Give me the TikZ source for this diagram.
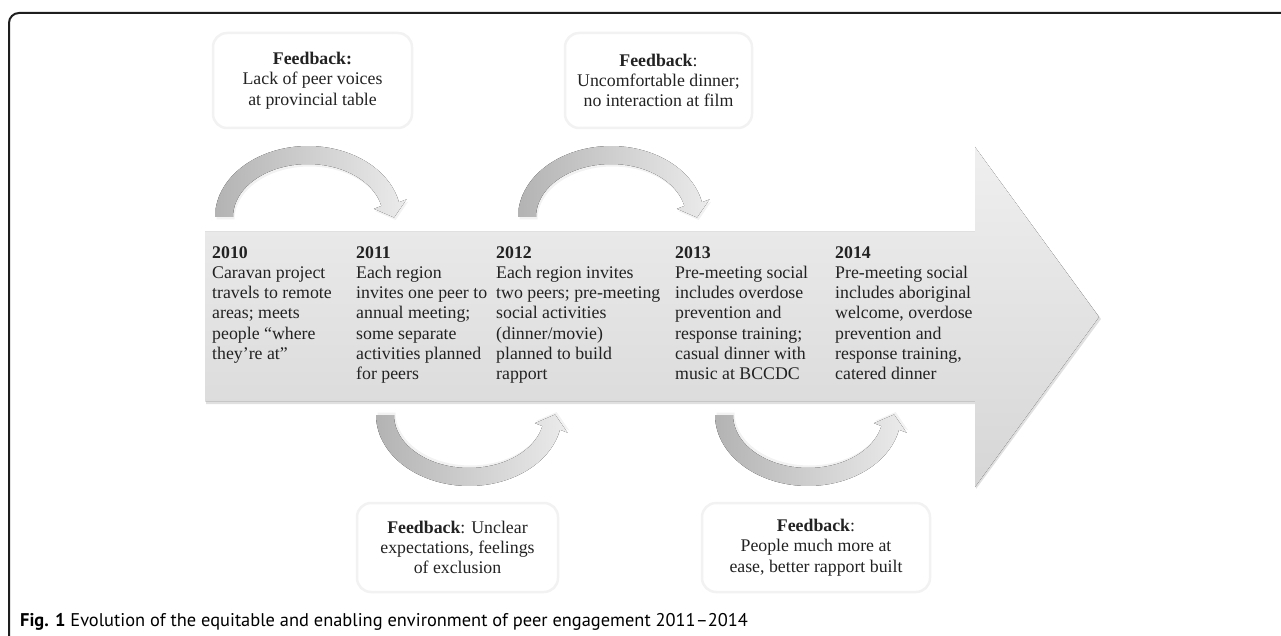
\documentclass[tikz,border=0pt]{standalone}
\usepackage{fontspec}
\setmainfont{Liberation Serif}
\newfontfamily\capfont{PT Sans}
\definecolor{arcdark}{HTML}{B3B3B3}
\definecolor{arclight}{HTML}{EBEBEB}
\definecolor{bartop}{HTML}{EFEFEF}
\definecolor{barbot}{HTML}{D6D6D6}
\definecolor{boxline}{HTML}{F2F2F2}
\definecolor{framec}{HTML}{1E1E1E}
\definecolor{txt}{HTML}{222222}
\newcommand\feedarc[3]{%
  \begin{scope}[shift={(#1,#2)}, yscale=#3]
    \fill[black, opacity=0.05, shift={(1.5,2.5)}] (-93,0) -- plot[domain=180:12, samples=40] ({93*cos(\x)}, {-71*sin(\x)}) -- (98.5,-17.6) -- (86.1,0.5) -- (65.9,-8.2) -- plot[domain=12:180, samples=40] ({75*cos(\x)},{-53*sin(\x)}) -- cycle;
    \fill[left color=arcdark, right color=arclight] (-93,0) -- plot[domain=180:12, samples=40] ({93*cos(\x)}, {-71*sin(\x)}) -- (98.5,-17.6) -- (86.1,0.5) -- (65.9,-8.2) -- plot[domain=12:180, samples=40] ({75*cos(\x)},{-53*sin(\x)}) -- cycle;
  \end{scope}}
\begin{document}
\begin{tikzpicture}[x=1pt,y=-1pt,
  fbbox/.style={draw=boxline, line width=2.5pt, fill=white, rounded corners=14pt, align=center, inner sep=0pt, text=txt, font=\fontsize{17.8}{20.3}\selectfont},
  yeartext/.style={anchor=north west, align=left, inner sep=0pt, text=txt, font=\fontsize{17.8}{20.3}\selectfont}]
\useasboundingbox (0,0) rectangle (1281,636);
% frame
\draw[framec, line width=2pt, rounded corners=10pt] (9,660) -- (9,13) -- (1300,13);
% main arrow
\fill[black, opacity=0.12] (206,234) -- (976,234) -- (976,149) -- (1101,319) -- (976,489) -- (976,404) -- (206,404) -- cycle;
\fill[top color=bartop, bottom color=barbot] (205,232) -- (975,232) -- (975,147) -- (1099,317) -- (975,487) -- (975,401) -- (205,401) -- cycle;
% curved arrows
\feedarc{308}{217}{1}
\feedarc{611}{217}{1}
\feedarc{469}{415}{-1}
\feedarc{808}{415}{-1}
% year texts
\node[yeartext] (y2010) at (212,246) {\textbf{2010}\\Caravan project\\travels to remote\\areas; meets\\people “where\\they’re at”};
\node[yeartext] (y2011) at (356,246) {\textbf{2011}\\Each region\\invites one peer to\\annual meeting;\\some separate\\activities planned\\for peers};
\node[yeartext] (y2012) at (496,246) {\textbf{2012}\\Each region invites\\two peers; pre-meeting\\social activities\\(dinner/movie)\\planned to build\\rapport};
\node[yeartext] (y2013) at (675,246) {\textbf{2013}\\Pre-meeting social\\includes overdose\\prevention and\\response training;\\casual dinner with\\music at BCCDC};
\node[yeartext] (y2014) at (835,246) {\textbf{2014}\\Pre-meeting social\\includes aboriginal\\welcome, overdose\\prevention and\\response training,\\catered dinner};
% feedback boxes
\node[fbbox, minimum width=199pt, minimum height=95pt] (fb1) at (312.5,80.5) {\textbf{Feedback:}\\Lack of peer voices\\at provincial table};
\node[fbbox, minimum width=187pt, minimum height=95pt] (fb2) at (658.5,80.5) {\textbf{Feedback}:\\Uncomfortable dinner;\\no interaction at film};
\node[fbbox, minimum width=201pt, minimum height=89pt] (fb3) at (457.5,547.5) {\textbf{Feedback}: Unclear\\expectations, feelings\\of exclusion};
\node[fbbox, minimum width=228pt, minimum height=89pt] (fb4) at (816,547.5) {\textbf{Feedback}:\\People much more at\\ease, better rapport built};
% caption
\node[anchor=base west, inner sep=0pt, font=\capfont\fontsize{18.4}{21}\selectfont] (cap) at (20,626) {\textbf{Fig. 1} Evolution of the equitable and enabling environment of peer engagement 2011–2014};
\end{tikzpicture}
\end{document}
